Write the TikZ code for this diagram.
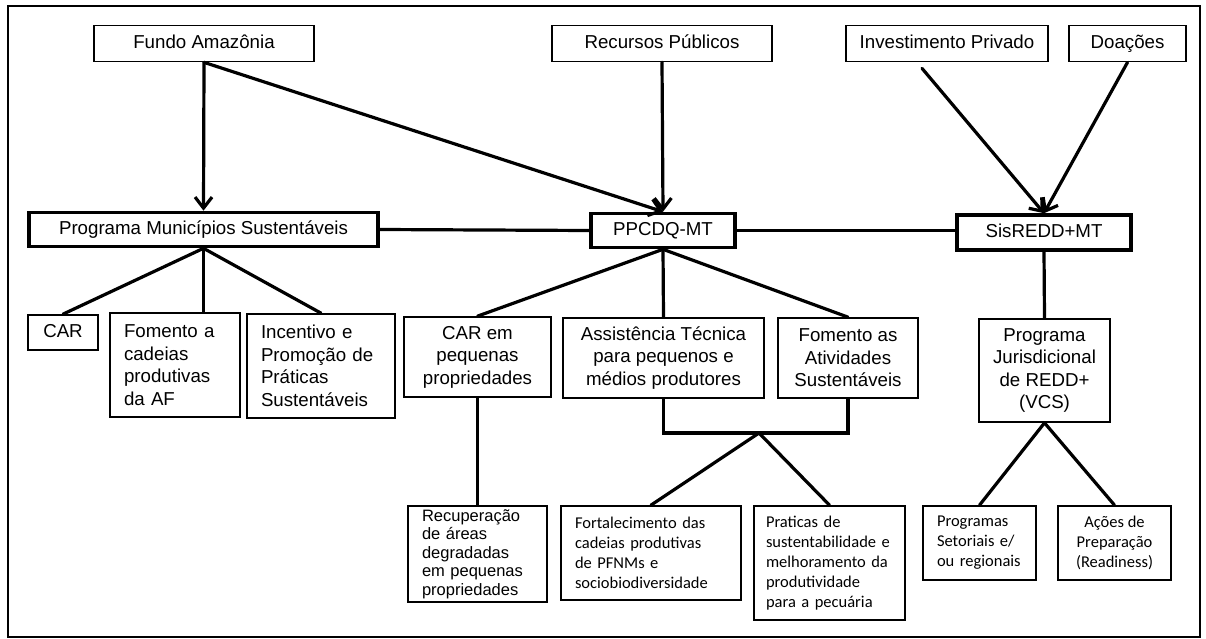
\documentclass[tikz,border=0pt]{standalone}
\usepackage{fontspec}
\setmainfont{Liberation Sans}
\newfontfamily\calibrifont{Carlito}
\usetikzlibrary{arrows.meta}

\begin{document}
\begin{tikzpicture}[x=1pt,y=-1pt]
\tikzset{BoxStyle/.style =
	{draw,
		line width = 1.7pt,
		inner sep = 0pt,
		align = center,
		font = \fontsize{18.7pt}{22.5pt}\selectfont},
	TopStyle/.style = {BoxStyle, minimum height = 36pt, text height = 14pt, text depth = 4.5pt},
	ProgStyle/.style = {TopStyle, line width = 3.6pt, minimum height = 34pt},
	LeafStyle/.style = {BoxStyle, align = left, inner xsep = 14pt},
	SmallStyle/.style = {font = \calibrifont\fontsize{16.5pt}{20pt}\selectfont},
	EdgeStyle/.style = {line width = 3.2pt, line cap = round},
	ArrowStyle/.style = {EdgeStyle, -{Straight Barb[length=11pt,width=17pt]}}}
\useasboundingbox (0,0) rectangle (1206,639);
\draw[line width=1.6pt] (8,6) rectangle (1200,637);
% sources
\node[TopStyle, minimum width=220pt] (fundo) at (204,43.5) {Fundo Amazônia};
\node[TopStyle, minimum width=220pt] (recursos) at (662,43.5) {Recursos Públicos};
\node[TopStyle, minimum width=202pt] (invest) at (947,43.5) {Investimento Privado};
\node[TopStyle, minimum width=117pt] (doacoes) at (1127.5,43.5) {Doações};
% programs
\node[ProgStyle, minimum width=349pt] (pms) at (203.5,229.5) {Programa Municípios Sustentáveis};
\node[ProgStyle, minimum width=144pt] (ppcdq) at (663,230.5) {PPCDQ-MT};
\node[ProgStyle, minimum width=174pt, minimum height=35pt] (sisredd) at (1044,232.5) {SisREDD+MT};
% actions
\node[TopStyle, minimum width=70pt, minimum height=35pt] (car) at (63,332.5) {CAR};
\node[LeafStyle, text width=102pt, minimum height=104pt] (fomaf) at (175,365) {Fomento a\\cadeias\\produtivas\\da AF};
\node[LeafStyle, text width=120pt, minimum height=104pt] (incent) at (321,366) {Incentivo e\\Promoção de\\Práticas\\Sustentáveis};
\node[BoxStyle, minimum width=147pt, minimum height=80pt] (carpeq) at (477.5,357) {CAR em\\pequenas\\propriedades};
\node[BoxStyle, minimum width=201pt, minimum height=80pt] (assist) at (663.5,358) {Assistência Técnica\\para pequenos e\\médios produtores};
\node[BoxStyle, minimum width=140pt, minimum height=80pt] (fomat) at (848,358) {Fomento as\\Atividades\\Sustentáveis};
\node[BoxStyle, minimum width=131pt, minimum height=103pt] (jurisd) at (1044.5,370.5) {Programa\\Jurisdicional\\de REDD+\\(VCS)};
% results
\node[LeafStyle, text width=111pt, minimum height=96pt, inner ysep=1.5pt, font=\fontsize{16.5pt}{18.6pt}\selectfont] (recup) at (477.5,554) {Recuperação\\de áreas\\degradadas\\em pequenas\\propriedades};
\node[LeafStyle, SmallStyle, text width=152pt, minimum height=94pt] (fortal) at (651,553) {Fortalecimento das\\cadeias produtivas\\de PFNMs e\\sociobiodiversidade};
\node[LeafStyle, SmallStyle, inner xsep=12pt, text width=127pt, minimum height=114pt] (pratic) at (829.5,563) {Praticas de\\sustentabilidade e\\melhoramento da\\produtividade\\para a pecuária};
\node[LeafStyle, SmallStyle, text width=85pt, minimum height=74pt] (progset) at (979.5,543) {Programas\\Setoriais e/\\ou regionais};
\node[BoxStyle, SmallStyle, minimum width=113pt, minimum height=74pt] (acoes) at (1114.5,543) {Ações de\\Preparação\\(Readiness)};
\coordinate (join) at (759,433);
% funding
\draw[ArrowStyle] (fundo.south) -- (pms.north);
\draw[ArrowStyle] (fundo.south) -- (ppcdq.north);
\draw[ArrowStyle] (recursos.south) -- (ppcdq.north);
\draw[ArrowStyle] ([xshift=-25pt,yshift=-6pt]invest.south) -- (sisredd.north);
\draw[ArrowStyle] (doacoes.south) -- (sisredd.north);
% links
\draw[EdgeStyle] (pms.east) -- (ppcdq.west);
\draw[EdgeStyle] (ppcdq.east) -- (ppcdq.east -| sisredd.west);
\draw[EdgeStyle] (pms.south) -- (car.north);
\draw[EdgeStyle] (pms.south) -- (pms.south |- fomaf.north);
\draw[EdgeStyle] (pms.south) -- (incent.north);
\draw[EdgeStyle] (ppcdq.south) -- (carpeq.north);
\draw[EdgeStyle] (ppcdq.south) -- (assist.north);
\draw[EdgeStyle] (ppcdq.south) -- (fomat.north);
\draw[EdgeStyle] (carpeq.south) -- (recup.north);
\draw[EdgeStyle] (assist.south) |- (join) -| (fomat.south);
\draw[EdgeStyle] (join) -- (fortal.north);
\draw[EdgeStyle] (join) -- (pratic.north);
\draw[EdgeStyle] (sisredd.south) -- (jurisd.north);
\draw[EdgeStyle] (jurisd.south) -- (progset.north);
\draw[EdgeStyle] (jurisd.south) -- (acoes.north);
\end{tikzpicture}
\end{document}
